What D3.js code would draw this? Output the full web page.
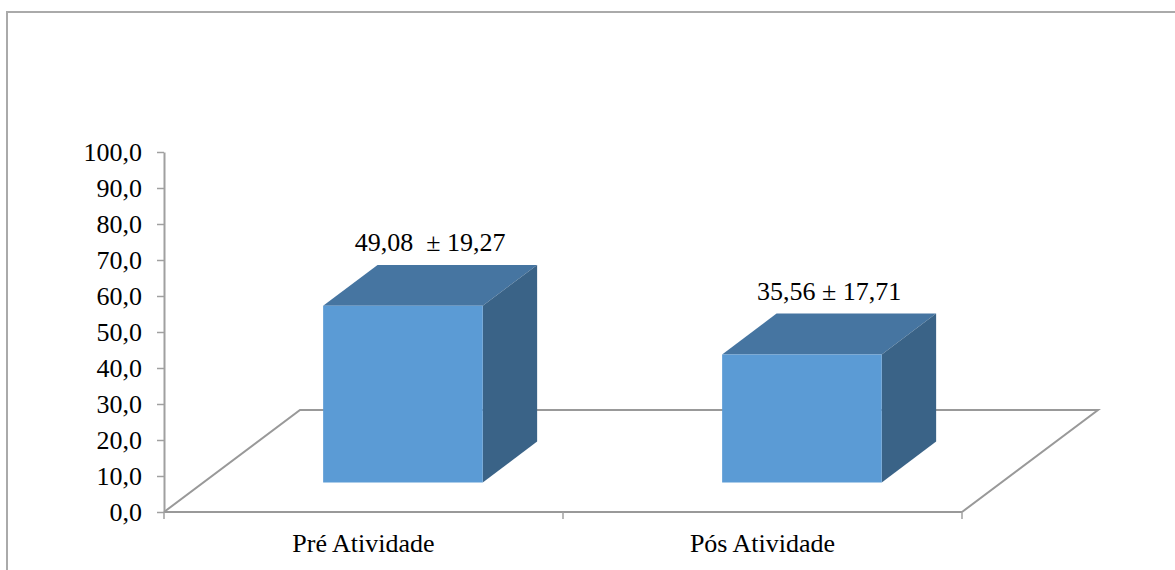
<!DOCTYPE html>
<html>
<head>
<meta charset="utf-8">
<script src="https://cdn.jsdelivr.net/npm/d3@7"></script>
<style>
  body { margin: 0; background: #fff; }
  svg text { font-family: "Liberation Serif", "Tinos", "Times New Roman", "DejaVu Serif", serif; fill: #000; }
</style>
</head>
<body>
<div id="chart"></div>
<script>
var categories = ['Pré Atividade', 'Pós Atividade'];
var means = [49.08, 35.56];
var labels = ['49,08  \u00b1 19,27', '35,56 \u00b1 17,71'];
var yTicks = [0, 10, 20, 30, 40, 50, 60, 70, 80, 90, 100];

var width = 1175, height = 570;
var plot = { left: 164, right: 962, top: 152, bottom: 512 };
// oblique depth offset for the full floor depth
var depth = { dx: 136, dy: -102 };
var barZ = [0.29, 0.69];
var barFrac = 0.4;

var colors = { front: '#5b9bd5', top: '#4675a1', side: '#3a6387', axis: '#a0a0a0', floor: '#999999' };
var serif = '"Liberation Serif", "Tinos", "Times New Roman", "DejaVu Serif", serif';

var locale = d3.formatLocale({ decimal: ',', thousands: '.', grouping: [3], currency: ['', ''] });
var fmt = locale.format('.1f');

var svg = d3.select('#chart').append('svg').attr('width', width).attr('height', height)
  .attr('font-family', serif);

// outer frame
svg.append('path').attr('d', 'M7,570 V12 H1175')
  .attr('fill', 'none').attr('stroke', '#aaaaaa').attr('stroke-width', 2);

var xScale = d3.scaleBand().domain(categories).range([plot.left, plot.right]).padding(0);
var yScale = d3.scaleLinear().domain([0, 100]).range([plot.bottom, plot.top]);

function pt(x, v, z) {
  return [x + z * depth.dx, yScale(v) + z * depth.dy];
}

// floor
var f0 = pt(plot.left, 0, 0), f1 = pt(plot.left, 0, 1), f2 = pt(plot.right, 0, 1), f3 = pt(plot.right, 0, 0);
svg.append('path').attr('d', 'M' + [f0, f1, f2, f3].join('L'))
  .attr('fill', 'none').attr('stroke', colors.floor).attr('stroke-width', 2);

// y axis
var yAxis = d3.axisLeft(yScale).tickValues(yTicks).tickFormat(fmt).tickSize(7).tickSizeOuter(0);
var gy = svg.append('g').attr('transform', 'translate(' + plot.left + ',0)').call(yAxis)
  .attr('font-family', serif).attr('font-size', 26);
gy.select('.domain').attr('stroke', colors.axis).attr('stroke-width', 2);
gy.selectAll('.tick line').attr('stroke', colors.axis).attr('stroke-width', 1.5);
gy.selectAll('.tick text').attr('x', -22).attr('dy', '0.33em').attr('fill', '#000');

// x axis
var gx = svg.append('g');
gx.append('line').attr('x1', plot.left).attr('x2', plot.right)
  .attr('y1', plot.bottom).attr('y2', plot.bottom)
  .attr('stroke', colors.floor).attr('stroke-width', 2);
var bounds = [plot.left].concat(categories.map(function (c) { return xScale(c) + xScale.bandwidth(); }));
gx.selectAll('line.tk').data(bounds).enter().append('line').attr('class', 'tk')
  .attr('x1', function (d) { return d; }).attr('x2', function (d) { return d; })
  .attr('y1', plot.bottom).attr('y2', plot.bottom + 7)
  .attr('stroke', colors.axis).attr('stroke-width', 1.5);
gx.selectAll('text').data(categories).enter().append('text')
  .attr('x', function (d) { return xScale(d) + xScale.bandwidth() / 2; })
  .attr('y', 552).attr('text-anchor', 'middle').attr('font-size', 26)
  .text(function (d) { return d; });

// bars
var bw = xScale.bandwidth() * barFrac;
var bars = svg.selectAll('g.bar').data(categories).enter().append('g').attr('class', 'bar');
bars.each(function (c, i) {
  var g = d3.select(this);
  var x0 = xScale(c) + (xScale.bandwidth() - bw) / 2, x1 = x0 + bw;
  var v = means[i];
  var za = barZ[0], zb = barZ[1];
  var A = pt(x0, 0, za), B = pt(x1, 0, za), C = pt(x1, v, za), D = pt(x0, v, za);
  var E = pt(x1, 0, zb), F = pt(x1, v, zb), G = pt(x0, v, zb);
  g.append('path').attr('d', 'M' + [D, G, F, C].join('L') + 'Z').attr('fill', colors.top);
  g.append('path').attr('d', 'M' + [B, E, F, C].join('L') + 'Z').attr('fill', colors.side);
  g.append('path').attr('d', 'M' + [A, B, C, D].join('L') + 'Z').attr('fill', colors.front);
  var mid = pt((x0 + x1) / 2, v, (za + zb) / 2);
  g.append('text').attr('x', mid[0]).attr('y', G[1] - 14)
    .attr('text-anchor', 'middle').attr('font-size', 26).style('white-space', 'pre')
    .text(labels[i]);
});
</script>
</body>
</html>
